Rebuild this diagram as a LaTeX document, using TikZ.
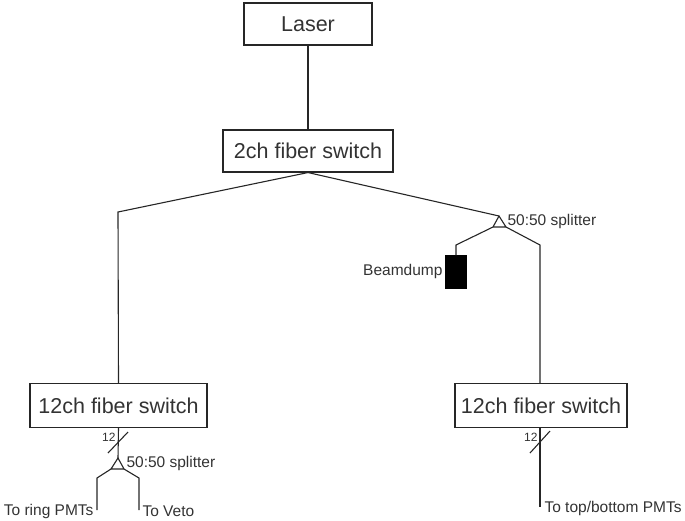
\documentclass[tikz,border=0pt]{standalone}
\usepackage{fontspec}
\setmainfont{Liberation Sans}
\begin{document}
\begin{tikzpicture}[x=1pt,y=-1pt,
  line width=1.1pt, draw=black!85,
  box/.style={draw=black!85, line width=1.1pt, rectangle, inner sep=0pt, font=\fontsize{21.5}{25}\selectfont, text=black!80},
  lbl/.style={inner sep=0pt, font=\fontsize{15.5}{18}\selectfont, text=black!80},
  sml/.style={inner sep=0pt, font=\fontsize{12}{14}\selectfont, text=black!80},
  wire/.style={draw=black!85, line width=1.1pt}]
\useasboundingbox (0,0) rectangle (685,520);
% boxes
\node[box, minimum width=128pt, minimum height=42pt] (laser) at (308,24) {Laser};
\node[box, minimum width=170pt, minimum height=42pt] (sw2) at (308,151) {2ch fiber switch};
\node[box, minimum width=177pt, minimum height=44pt] (swl) at (118.5,405.5) {12ch fiber switch};
\node[box, minimum width=172pt, minimum height=44pt] (swr) at (541,405.5) {12ch fiber switch};
\node[draw=black, fill=black, minimum width=21pt, minimum height=32pt, inner sep=0pt] (dump) at (456,272) {};
% corner coordinates
\coordinate (lc) at (118,212);
\coordinate (spA) at (499,216);
\coordinate (spL) at (493,227);
\coordinate (spR) at (506,227);
\coordinate (dc) at (456,245);
\coordinate (rc) at (540,245);
\coordinate (bspA) at (118,458);
\coordinate (bspL) at (111,469);
\coordinate (bspR) at (124,469);
\coordinate (blc) at (97,478);
\coordinate (brc) at (139,478);
\coordinate (ble) at (97,510);
\coordinate (bre) at (139,510);
\coordinate (rend) at (540,507);
\coordinate (s1a) at (108,453);
\coordinate (s1b) at (128,432);
\coordinate (s2a) at (530,453);
\coordinate (s2b) at (550,431);
% connectors
\draw[wire] (laser.south) -- (sw2.north);
\draw[wire] (sw2.south) -- (lc) -- (swl.north);
\draw[wire] (sw2.south) -- (spA);
\draw[wire, line join=miter] (spA) -- (spL) -- (spR) -- cycle;
\draw[wire] (spL) -- (dc) -- (dump.north);
\draw[wire] (spR) -- (rc) -- (rc |- swr.north);
\draw[wire] (swl.south) -- (bspA);
\draw[wire, line join=miter] (bspA) -- (bspL) -- (bspR) -- cycle;
\draw[wire] (bspL) -- (blc) -- (ble);
\draw[wire] (bspR) -- (brc) -- (bre);
\draw[wire] (rc |- swr.south) -- (rend);
\draw[wire] (s1a) -- (s1b);
\draw[wire] (s2a) -- (s2b);
% labels
\node[lbl, anchor=west] (l1) at (507,221) {50:50 splitter};
\node[lbl, anchor=east] (l2) at (443,271) {Beamdump};
\node[lbl, anchor=west] (l3) at (126,463) {50:50 splitter};
\node[lbl, anchor=east] (l4) at (94,511) {To ring PMTs};
\node[lbl, anchor=west] (l5) at (142,511) {To Veto};
\node[lbl, anchor=west] (l6) at (544,508) {To top/bottom PMTs};
\node[sml, anchor=east] (n1) at (116,437) {12};
\node[sml, anchor=east] (n2) at (538,437) {12};
\end{tikzpicture}
\end{document}
